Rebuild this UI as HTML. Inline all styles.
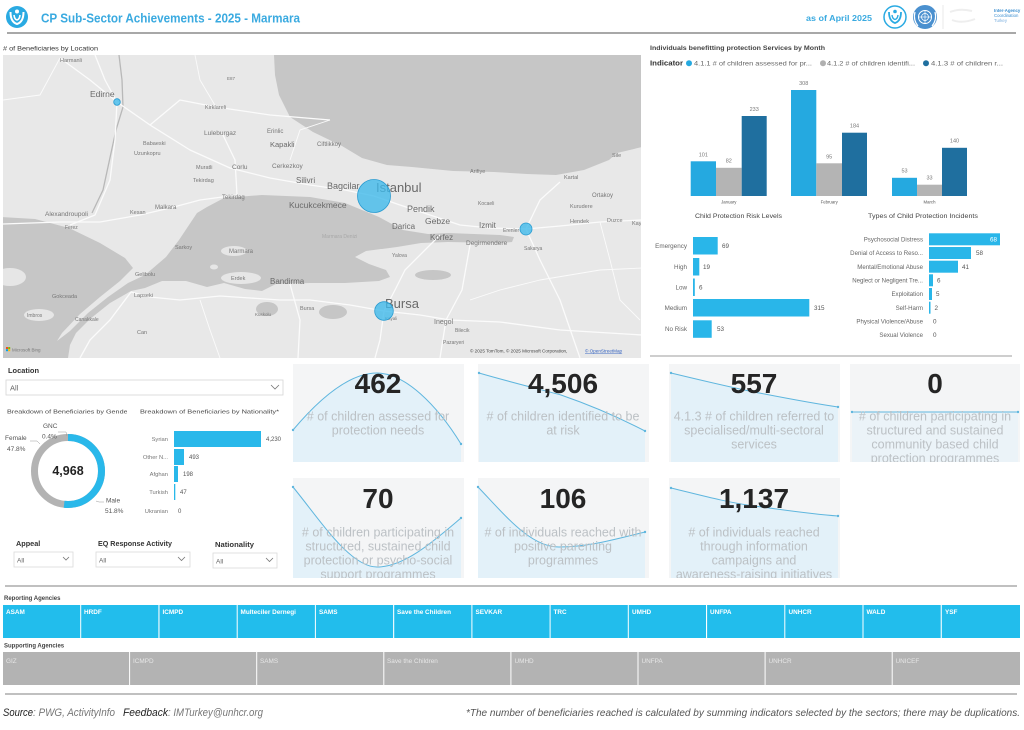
<!DOCTYPE html>
<html><head><meta charset="utf-8"><style>html,body{margin:0;padding:0;background:#fff}svg{display:block}</style></head>
<body>
<svg width="1024" height="730" viewBox="0 0 1024 730" xmlns="http://www.w3.org/2000/svg" font-family="'Liberation Sans', sans-serif">
<defs>
<clipPath id="mapclip"><rect x="3" y="55" width="638" height="303"/></clipPath>
<clipPath id="c1"><rect x="293" y="364" width="171" height="98"/></clipPath>
<clipPath id="c2"><rect x="478" y="364" width="171" height="98"/></clipPath>
<clipPath id="c3"><rect x="669" y="364" width="171" height="98"/></clipPath>
<clipPath id="c4"><rect x="850" y="364" width="170" height="98"/></clipPath>
<clipPath id="c5"><rect x="293" y="478" width="171" height="100"/></clipPath>
<clipPath id="c6"><rect x="478" y="478" width="171" height="100"/></clipPath>
<clipPath id="c7"><rect x="669" y="478" width="171" height="100"/></clipPath>
<clipPath id="gclip"><rect x="0" y="400" width="127" height="20"/></clipPath>
</defs>
<rect width="1024" height="730" fill="#fff"/>

<!-- HEADER -->
<circle cx="17" cy="17" r="11" fill="#2aaae2"/>
<circle cx="17" cy="11.5" r="2" fill="#fff"/>
<path d="M10.5,12 Q10.5,22 17,24 Q23.5,22 23.5,12" stroke="#fff" stroke-width="2" fill="none"/>
<path d="M14,15 Q14.5,19.5 17,20 Q19.5,19.5 20,15" stroke="#fff" stroke-width="1.6" fill="none"/>
<text x="41" y="22.5" font-size="13" font-weight="bold" fill="#3aaae0" textLength="259" lengthAdjust="spacingAndGlyphs">CP Sub-Sector Achievements - 2025 - Marmara</text>
<text x="806" y="21" font-size="8.5" font-weight="bold" fill="#3aaae0" textLength="66" lengthAdjust="spacingAndGlyphs">as of April 2025</text>
<circle cx="895" cy="17" r="11" fill="#fff" stroke="#2aaae2" stroke-width="1.5"/>
<circle cx="895" cy="11.5" r="1.8" fill="#2aaae2"/>
<path d="M889,12 Q889,21 895,23 Q901,21 901,12" stroke="#2aaae2" stroke-width="1.8" fill="none"/>
<path d="M892,15 Q892.5,19 895,19.5 Q897.5,19 898,15" stroke="#2aaae2" stroke-width="1.4" fill="none"/>
<circle cx="925" cy="17" r="12" fill="#4a90cf"/>
<circle cx="925" cy="17" r="6.5" fill="none" stroke="#fff" stroke-width="1"/>
<circle cx="925" cy="17" r="3.5" fill="none" stroke="#fff" stroke-width="0.8"/>
<line x1="918" y1="17" x2="932" y2="17" stroke="#fff" stroke-width="0.7"/>
<line x1="925" y1="10" x2="925" y2="24" stroke="#fff" stroke-width="0.7"/>
<path d="M915,12 Q913,20 918,26 M935,12 Q937,20 932,26" stroke="#fff" stroke-width="1.2" fill="none"/>
<line x1="943" y1="5" x2="943" y2="29" stroke="#e4e4e4" stroke-width="0.8"/>
<path d="M950,12 Q960,8 972,11 M952,20 Q962,24 975,19" stroke="#eeeeee" stroke-width="2" fill="none"/>
<text x="994" y="12" font-size="4.3" fill="#3a8ed0" font-weight="bold">Inter-Agency</text>
<text x="994" y="17" font-size="4.3" fill="#3a8ed0">Coordination</text>
<text x="994" y="22" font-size="4.3" fill="#7aaede">Turkey</text>
<line x1="7" y1="33" x2="1016" y2="33" stroke="#8c8c8c" stroke-width="1.5"/>

<!-- MAP -->
<text x="3" y="50.5" font-size="6.5" fill="#333" textLength="95" lengthAdjust="spacingAndGlyphs"># of Beneficiaries by Location</text>
<g clip-path="url(#mapclip)">
<rect x="3" y="55" width="638" height="303" fill="#e8e8e8"/>
<!-- Black Sea -->
<path d="M274,55 L642,55 L642,147 L617,153 L609,160 L584,170 L556,175 L527,174 L494,172 L453,171 L412,167 L387,165 L362,158 L342,146 L313,132 L290,117 L279,95 L275,75 Z" fill="#c6c6c6"/>
<!-- Marmara + Dardanelles + Aegean -->
<path d="M0,217 L35,219 L69,228 L100,243 L125,258 L133,268 L120,281 L100,297 L80,314 L62,333 L57,341 L70,331 L88,313 L108,297 L128,283 L145,275 L166,257 L179,240 L197,213 L207,207 L224,198 L262,195 L310,197 L345,203 L362,210 L379,217 L390,223 L403,230 L428,234 L448,233 L500,235 L514,237 L512,242 L500,243 L448,242 L421,243 L397,247 L366,251 L355,257 L369,264 L386,270 L390,277 L379,281 L345,283 L310,283 L276,284 L262,291 L245,289 L224,283 L207,287 L186,281 L162,281 L145,288 L131,291 L110,303 L90,319 L76,333 L70,345 L68,358 L0,358 Z" fill="#c6c6c6"/>
<ellipse cx="10" cy="277" rx="16" ry="9" fill="#e6e6e6"/>
<ellipse cx="39" cy="315" rx="15" ry="6" fill="#e6e6e6"/>
<ellipse cx="234" cy="251" rx="13" ry="5" fill="#e6e6e6"/>
<ellipse cx="241" cy="278" rx="20" ry="6" fill="#e6e6e6"/>
<ellipse cx="214" cy="267" rx="4" ry="2.5" fill="#e6e6e6"/>
<ellipse cx="267" cy="309" rx="11" ry="7" fill="#c6c6c6"/>
<ellipse cx="333" cy="312" rx="14" ry="7" fill="#c6c6c6"/>
<ellipse cx="433" cy="275" rx="18" ry="5" fill="#c6c6c6"/>
<!-- border -->
<polyline points="119,55 122,80 123,107 116,130 111,153 103,190 92,213" fill="none" stroke="#b8b8b8" stroke-width="1.3"/>
<!-- roads -->
<g fill="none" stroke="#fbfbfb" stroke-width="1.3" stroke-linejoin="round">
<polyline points="60,58 90,80 117,102 150,125 190,150 230,168 270,178 310,185 345,190 374,196"/>
<polyline points="374,196 400,205 430,215 460,225 490,228 526,229 560,226 600,222 642,220"/>
<polyline points="440,235 420,255 405,270 395,290 384,311"/>
<polyline points="384,311 420,315 450,320 500,322 560,330 642,335"/>
<polyline points="384,311 350,305 310,300 280,300 250,298 220,296 180,300 150,297 131,292"/>
<polyline points="237,195 200,200 170,208 140,215 100,222 60,222 3,224"/>
<polyline points="117,102 115,140 110,180 95,215 70,225"/>
<polyline points="117,102 105,80 95,55"/>
<polyline points="150,125 180,100 216,107 270,115 330,120"/>
<polyline points="222,133 235,160 237,195"/>
<polyline points="384,311 380,340 375,358"/>
<polyline points="290,284 300,320 298,358"/>
<polyline points="526,229 540,200 560,182"/>
<polyline points="526,229 540,260 560,300 580,358"/>
<polyline points="470,245 462,290 446,320 440,358"/>
<polyline points="131,292 110,320 90,340 80,358"/>
<polyline points="216,107 200,80 195,55" stroke-width="0.9"/>
<polyline points="290,160 300,130 330,120" stroke-width="0.9"/>
<polyline points="600,222 610,260 620,300 640,320" stroke-width="0.9"/>
<polyline points="200,300 210,330 220,358" stroke-width="0.9"/>
<polyline points="3,100 40,95 60,58" stroke-width="0.9"/>
<polyline points="470,300 500,290 540,280 600,270 642,268" stroke-width="0.9"/>
</g>
<!-- labels -->
<g fill="#777" font-size="5.5">
<text x="60" y="62">Harmanli</text>
<text x="90" y="97" font-size="8.5" fill="#6a6a6a">Edirne</text>
<text x="205" y="109">Kirklareli</text>
<text x="204" y="135" font-size="6.5">Luleburgaz</text>
<text x="143" y="145">Babaeski</text>
<text x="134" y="155">Uzunkopru</text>
<text x="196" y="169">Muratli</text>
<text x="232" y="169" font-size="6.5">Corlu</text>
<text x="272" y="168" font-size="6.5">Cerkezkoy</text>
<text x="270" y="147" font-size="7.5" fill="#6a6a6a">Kapakli</text>
<text x="317" y="146" font-size="6">Ciftlikkoy</text>
<text x="267" y="133" font-size="6">Erinlic</text>
<text x="296" y="183" font-size="8" fill="#6a6a6a">Silivri</text>
<text x="327" y="189" font-size="9" fill="#6a6a6a">Bagcilar</text>
<text x="376" y="192" font-size="13" fill="#6a6a6a">Istanbul</text>
<text x="289" y="208" font-size="8.5" fill="#6a6a6a">Kucukcekmece</text>
<text x="407" y="212" font-size="9" fill="#6a6a6a">Pendik</text>
<text x="425" y="224" font-size="8.5" fill="#6a6a6a">Gebze</text>
<text x="392" y="229" font-size="8" fill="#6a6a6a">Darica</text>
<text x="430" y="240" font-size="8" fill="#6a6a6a">Korfez</text>
<text x="479" y="228" font-size="8" fill="#6a6a6a">Izmit</text>
<text x="503" y="232" font-size="5">Erenler</text>
<text x="466" y="245" font-size="6.5">Degirmendere</text>
<text x="524" y="250" font-size="5">Sakarya</text>
<text x="222" y="199" font-size="6">Tekirdag</text>
<text x="193" y="182" font-size="5.5">Tekirdag</text>
<text x="155" y="209" font-size="6">Malkara</text>
<text x="45" y="216" font-size="6.5">Alexandroupoli</text>
<text x="130" y="214" font-size="5.5">Kesan</text>
<text x="65" y="229" font-size="5">Ferez</text>
<text x="322" y="238" font-size="5" fill="#a8a8a8">Marmara Denizi</text>
<text x="229" y="253" font-size="6">Marmara</text>
<text x="231" y="280" font-size="5.5">Erdek</text>
<text x="175" y="249" font-size="5.5">Sarkoy</text>
<text x="270" y="284" font-size="8" fill="#6a6a6a">Bandirma</text>
<text x="385" y="308" font-size="13" fill="#6a6a6a">Bursa</text>
<text x="434" y="324" font-size="7">Inegol</text>
<text x="392" y="257" font-size="5">Yalova</text>
<text x="564" y="179" font-size="5.5">Kartal</text>
<text x="612" y="157" font-size="5.5">Sile</text>
<text x="592" y="197" font-size="6">Ortakoy</text>
<text x="570" y="208" font-size="5.5">Kurudere</text>
<text x="570" y="223" font-size="5.5">Hendek</text>
<text x="607" y="222" font-size="5.5">Duzce</text>
<text x="632" y="225" font-size="5.5">Kay</text>
<text x="470" y="173" font-size="5.5">Arifiye</text>
<text x="478" y="205" font-size="5">Kocaeli</text>
<text x="135" y="276" font-size="5.5">Gelibolu</text>
<text x="134" y="297" font-size="5.5">Lapseki</text>
<text x="52" y="298" font-size="5.5">Gokceada</text>
<text x="27" y="317" font-size="5">Imbros</text>
<text x="75" y="321" font-size="5">Canakkale</text>
<text x="137" y="334" font-size="5.5">Can</text>
<text x="300" y="310" font-size="5.5">Bursa</text>
<text x="255" y="316" font-size="4.5">Kuskolu</text>
<text x="385" y="320" font-size="4.5">Kayali</text>
<text x="455" y="332" font-size="5">Bilecik</text>
<text x="443" y="344" font-size="5">Pazaryeri</text>
<text x="227" y="80" font-size="4.5">E87</text>
</g>
<!-- bubbles -->
<g fill="#3cb9ea" fill-opacity="0.78" stroke="#2a9bd0" stroke-width="0.8">
<circle cx="117" cy="102" r="3.3"/>
<circle cx="374" cy="196" r="16.5"/>
<circle cx="526" cy="229" r="6"/>
<circle cx="384" cy="311" r="9.3"/>
</g>
<rect x="6" y="347" width="2" height="2" fill="#f25022"/><rect x="8.2" y="347" width="2" height="2" fill="#7fba00"/><rect x="6" y="349.2" width="2" height="2" fill="#00a4ef"/><rect x="8.2" y="349.2" width="2" height="2" fill="#ffb900"/>
<text x="12" y="351.5" font-size="4.5" fill="#777">Microsoft Bing</text>
<text x="470" y="352.5" font-size="4.6" fill="#444">© 2025 TomTom, © 2025 Microsoft Corporation,</text>
<text x="585" y="352.5" font-size="4.6" fill="#3060c0" text-decoration="underline">© OpenStreetMap</text>
</g>

<!-- TOP RIGHT BAR CHART -->
<text x="650" y="50" font-size="6.8" font-weight="bold" fill="#444" textLength="175" lengthAdjust="spacingAndGlyphs">Individuals benefitting protection Services by Month</text>
<text x="650" y="65.5" font-size="7" font-weight="bold" fill="#333" textLength="33" lengthAdjust="spacingAndGlyphs">Indicator</text>
<circle cx="689" cy="63.3" r="3" fill="#25a9e0"/>
<text x="694" y="65.5" font-size="6.8" fill="#666" textLength="118" lengthAdjust="spacingAndGlyphs">4.1.1 # of children assessed for pr...</text>
<circle cx="823" cy="63.3" r="3" fill="#b0b0b0"/>
<text x="827" y="65.5" font-size="6.8" fill="#666" textLength="88" lengthAdjust="spacingAndGlyphs">4.1.2 # of children identifi...</text>
<circle cx="926" cy="63.3" r="3" fill="#1f6f9f"/>
<text x="931" y="65.5" font-size="6.8" fill="#666" textLength="72" lengthAdjust="spacingAndGlyphs">4.1.3 # of children r...</text>
<g>
<rect x="690.7" y="161.3" width="25.3" height="34.7" fill="#25a9e0"/>
<rect x="716" y="167.8" width="25.7" height="28.2" fill="#b4b4b4"/>
<rect x="741.7" y="116" width="25" height="80" fill="#1f6f9f"/>
<rect x="791" y="90" width="25.3" height="106" fill="#25a9e0"/>
<rect x="816.3" y="163.3" width="25.7" height="32.7" fill="#b4b4b4"/>
<rect x="842" y="132.7" width="25" height="63.3" fill="#1f6f9f"/>
<rect x="892" y="177.8" width="25" height="18.2" fill="#25a9e0"/>
<rect x="917" y="184.7" width="25" height="11.3" fill="#b4b4b4"/>
<rect x="942" y="147.8" width="25" height="48.2" fill="#1f6f9f"/>
</g>
<g font-size="5.5" fill="#777" text-anchor="middle">
<text x="703.3" y="156.5">101</text>
<text x="728.8" y="162.5">82</text>
<text x="754.2" y="111">233</text>
<text x="803.7" y="85">308</text>
<text x="829.2" y="158.5">95</text>
<text x="854.5" y="127.5">184</text>
<text x="904.5" y="172.5">53</text>
<text x="929.5" y="179.5">33</text>
<text x="954.5" y="142.5">140</text>
<text x="728.8" y="203.5" font-size="4.3" fill="#555">January</text>
<text x="829.2" y="203.5" font-size="4.3" fill="#555">February</text>
<text x="929.5" y="203.5" font-size="4.3" fill="#555">March</text>
</g>

<!-- RISK LEVELS -->
<text x="695" y="218" font-size="6" fill="#444" textLength="87" lengthAdjust="spacingAndGlyphs">Child Protection Risk Levels</text>
<text x="868" y="218" font-size="6" fill="#444" textLength="110" lengthAdjust="spacingAndGlyphs">Types of Child Protection Incidents</text>
<g fill="#29b6e9">
<rect x="693" y="237" width="24.7" height="17.5"/>
<rect x="693" y="258" width="6.3" height="17.5"/>
<rect x="693" y="278.5" width="1.8" height="17.5"/>
<rect x="693" y="299" width="116.3" height="17.5"/>
<rect x="693" y="320.3" width="18.7" height="17.5"/>
</g>
<g font-size="6.3" fill="#666" text-anchor="end">
<text x="687" y="248">Emergency</text>
<text x="687" y="269">High</text>
<text x="687" y="289.5">Low</text>
<text x="687" y="310">Medium</text>
<text x="687" y="331">No Risk</text>
</g>
<g font-size="6.3" fill="#555">
<text x="722" y="248">69</text>
<text x="703" y="269">19</text>
<text x="699" y="289.5">6</text>
<text x="814" y="310">315</text>
<text x="717" y="331">53</text>
</g>
<!-- INCIDENTS -->
<g fill="#29b6e9">
<rect x="929" y="233.3" width="71" height="12"/>
<rect x="929" y="247" width="42" height="12"/>
<rect x="929" y="260.7" width="29" height="12"/>
<rect x="929" y="274.3" width="4" height="12"/>
<rect x="929" y="288" width="3" height="12"/>
<rect x="929" y="301.7" width="1.5" height="12"/>
</g>
<g font-size="6.1" fill="#666" text-anchor="end">
<text x="923" y="241.5">Psychosocial Distress</text>
<text x="923" y="255.2">Denial of Access to Reso...</text>
<text x="923" y="268.9">Mental/Emotional Abuse</text>
<text x="923" y="282.5">Neglect or Negligent Tre...</text>
<text x="923" y="296.2">Exploitation</text>
<text x="923" y="309.9">Self-Harm</text>
<text x="923" y="323.5">Physical Violence/Abuse</text>
<text x="923" y="337.2">Sexual Violence</text>
</g>
<g font-size="6.3" fill="#555">
<text x="990" y="241.5" fill="#fff">68</text>
<text x="976" y="255.2">58</text>
<text x="962" y="268.9">41</text>
<text x="937" y="282.5">6</text>
<text x="936" y="296.2">5</text>
<text x="934.5" y="309.9">2</text>
<text x="933" y="323.5">0</text>
<text x="933" y="337.2">0</text>
</g>
<line x1="650" y1="356" x2="1012" y2="356" stroke="#bdbdbd" stroke-width="1.5"/>

<!-- LEFT MIDDLE -->
<text x="8" y="373" font-size="7.5" font-weight="bold" fill="#333" textLength="31" lengthAdjust="spacingAndGlyphs">Location</text>
<rect x="6" y="380" width="277" height="15" fill="#fff" stroke="#d6d6d6" stroke-width="0.8"/>
<text x="10" y="390.5" font-size="7.5" fill="#666">All</text>
<polyline points="271,385 275,389 279,385" fill="none" stroke="#777" stroke-width="0.8"/>
<g clip-path="url(#gclip)"><text x="7" y="413.5" font-size="5.6" fill="#444" textLength="123" lengthAdjust="spacingAndGlyphs">Breakdown of Beneficiaries by Gender</text></g>
<text x="140" y="413.5" font-size="5.6" fill="#444" textLength="139" lengthAdjust="spacingAndGlyphs">Breakdown of Beneficiaries by Nationality*</text>
<!-- donut -->
<circle cx="68" cy="471" r="33.5" fill="none" stroke="#b3b3b3" stroke-width="7"/>
<circle cx="68" cy="471" r="33.5" fill="none" stroke="#29b8ea" stroke-width="7" stroke-dasharray="109 210.5" transform="rotate(-90 68 471)"/>
<text x="68" y="475" font-size="12.5" font-weight="bold" fill="#222" text-anchor="middle">4,968</text>
<g font-size="6.5" fill="#555">
<text x="43" y="428">GNC</text>
<text x="42" y="438.5">0.4%</text>
<text x="5" y="440">Female</text>
<text x="7" y="451">47.8%</text>
<text x="106" y="502.5">Male</text>
<text x="105" y="513">51.8%</text>
</g>
<polyline points="58,432 66,432 67,436" fill="none" stroke="#999" stroke-width="0.5"/>
<polyline points="30,441 37,441 40,444" fill="none" stroke="#999" stroke-width="0.5"/>
<polyline points="96,501 99,502 104,502" fill="none" stroke="#999" stroke-width="0.5"/>
<!-- nationality -->
<g fill="#29b8ea">
<rect x="174" y="431" width="87" height="16"/>
<rect x="174" y="449" width="10" height="16"/>
<rect x="174" y="466" width="4" height="16"/>
<rect x="174" y="484" width="1.3" height="16"/>
</g>
<g font-size="5.8" fill="#777" text-anchor="end">
<text x="168" y="441">Syrian</text>
<text x="168" y="459">Other N...</text>
<text x="168" y="476">Afghan</text>
<text x="168" y="494">Turkish</text>
<text x="168" y="513">Ukranian</text>
</g>
<g font-size="6" fill="#555">
<text x="266" y="441">4,230</text>
<text x="189" y="459">493</text>
<text x="183" y="476">198</text>
<text x="180" y="494">47</text>
<text x="178" y="513">0</text>
</g>
<!-- slicers -->
<text x="16" y="546" font-size="7.3" font-weight="bold" fill="#333">Appeal</text>
<text x="98" y="546" font-size="7.3" font-weight="bold" fill="#333" textLength="74" lengthAdjust="spacingAndGlyphs">EQ Response Activity</text>
<text x="215" y="547" font-size="7.3" font-weight="bold" fill="#333" textLength="39" lengthAdjust="spacingAndGlyphs">Nationality</text>
<rect x="14" y="552" width="59" height="15" fill="#fff" stroke="#dadada" stroke-width="0.8"/>
<rect x="96" y="552" width="94" height="15" fill="#fff" stroke="#dadada" stroke-width="0.8"/>
<rect x="213" y="553" width="64" height="15" fill="#fff" stroke="#dadada" stroke-width="0.8"/>
<g font-size="6.5" fill="#666">
<text x="17" y="562.5">All</text>
<text x="99" y="562.5">All</text>
<text x="216" y="563.5">All</text>
</g>
<g fill="none" stroke="#777" stroke-width="0.8">
<polyline points="63,557 66,560 69,557"/>
<polyline points="178,557 181.5,560.5 185,557"/>
<polyline points="266,558 269.5,561.5 273,558"/>
</g>

<!-- KPI CARDS -->
<g fill="#f4f5f6">
<rect x="293" y="364" width="171" height="98"/>
<rect x="478" y="364" width="171" height="98"/>
<rect x="669" y="364" width="171" height="98"/>
<rect x="850" y="364" width="170" height="98"/>
<rect x="293" y="478" width="171" height="100"/>
<rect x="478" y="478" width="171" height="100"/>
<rect x="669" y="478" width="171" height="100"/>
</g>
<g fill="#e3f1f9">
<path clip-path="url(#c1)" d="M293,430 C320,398 350,373 377,373 C405,373 437,405 461,444 L461,462 L293,462 Z"/>
<path clip-path="url(#c2)" d="M479,373 C510,382 535,388 561,395 C590,405 620,418 645,431 L645,462 L479,462 Z"/>
<path clip-path="url(#c3)" d="M671,373 C700,380 725,386 754,392 C785,398 810,403 838,407 L838,462 L671,462 Z"/>
<rect x="852" y="412" width="166" height="50" fill="#ebf3f8"/>
<path clip-path="url(#c5)" d="M293,487 C320,520 350,567 377,567 C405,567 435,540 461,518 L461,578 L293,578 Z"/>
<path clip-path="url(#c6)" d="M478,487 C505,515 530,547 559,547 C590,547 620,538 645,532 L645,578 L478,578 Z"/>
<path clip-path="url(#c7)" d="M671,488 C700,495 725,502 754,506 C785,510 810,514 838,516 L838,578 L671,578 Z"/>
</g>
<g fill="none" stroke="#5fb6de" stroke-width="1">
<path d="M293,430 C320,398 350,373 377,373 C405,373 437,405 461,444"/>
<path d="M479,373 C510,382 535,388 561,395 C590,405 620,418 645,431"/>
<path d="M671,373 C700,380 725,386 754,392 C785,398 810,403 838,407"/>
<path d="M852,412 L1018,412"/>
<path d="M293,487 C320,520 350,567 377,567 C405,567 435,540 461,518"/>
<path d="M478,487 C505,515 530,547 559,547 C590,547 620,538 645,532"/>
<path d="M671,488 C700,495 725,502 754,506 C785,510 810,514 838,516"/>
</g>
<g fill="#5fb6de">
<circle cx="293" cy="430" r="1.2"/><circle cx="461" cy="444" r="1.2"/>
<circle cx="479" cy="373" r="1.2"/><circle cx="645" cy="431" r="1.2"/>
<circle cx="671" cy="373" r="1.2"/><circle cx="838" cy="407" r="1.2"/>
<circle cx="852" cy="412" r="1.2"/><circle cx="1018" cy="412" r="1.2"/>
<circle cx="293" cy="487" r="1.2"/><circle cx="461" cy="518" r="1.2"/>
<circle cx="478" cy="487" r="1.2"/><circle cx="645" cy="532" r="1.2"/>
<circle cx="671" cy="488" r="1.2"/><circle cx="838" cy="516" r="1.2"/>
</g>
<g font-size="28" font-weight="bold" fill="#252525" text-anchor="middle">
<text x="378" y="393">462</text>
<text x="563" y="393">4,506</text>
<text x="754" y="393">557</text>
<text x="935" y="393">0</text>
<text x="378" y="508">70</text>
<text x="563" y="508">106</text>
<text x="754" y="508">1,137</text>
</g>
<g font-size="12.5" fill="#bcc1c5" text-anchor="middle">
<g clip-path="url(#c1)"><text x="378" y="420.5">
# of children assessed for</text><text x="378" y="434.5">protection needs</text></g>
<g clip-path="url(#c2)"><text x="563" y="420.5"># of children identified to be</text><text x="563" y="434.5">at risk</text></g>
<g clip-path="url(#c3)"><text x="754" y="420.5">4.1.3 # of children referred to</text><text x="754" y="434.5">specialised/multi-sectoral</text><text x="754" y="448.5">services</text></g>
<g clip-path="url(#c4)"><text x="935" y="420.5"># of children participating in</text><text x="935" y="434.5">structured and sustained</text><text x="935" y="448.5">community based child</text><text x="935" y="462.5">protection programmes</text></g>
<g clip-path="url(#c5)"><text x="378" y="536.5"># of children participating in</text><text x="378" y="550.5">structured, sustained child</text><text x="378" y="564.5">protection or psycho-social</text><text x="378" y="578.5">support programmes</text></g>
<g clip-path="url(#c6)"><text x="563" y="536.5"># of individuals reached with</text><text x="563" y="550.5">positive parenting</text><text x="563" y="564.5">programmes</text></g>
<g clip-path="url(#c7)"><text x="754" y="536.5"># of individuals reached</text><text x="754" y="550.5">through information</text><text x="754" y="564.5">campaigns and</text><text x="754" y="578.5">awareness-raising initiatives</text></g>
</g>

<!-- AGENCIES -->
<line x1="5" y1="586" x2="1017" y2="586" stroke="#9a9a9a" stroke-width="1.2"/>
<text x="4" y="600" font-size="6" font-weight="bold" fill="#444">Reporting Agencies</text>
<g fill="#22bdec">
<rect x="3" y="605" width="77.2" height="33"/>
<rect x="81.2" y="605" width="77.2" height="33"/>
<rect x="159.5" y="605" width="77.2" height="33"/>
<rect x="237.7" y="605" width="77.2" height="33"/>
<rect x="315.9" y="605" width="77.2" height="33"/>
<rect x="394.2" y="605" width="77.2" height="33"/>
<rect x="472.4" y="605" width="77.2" height="33"/>
<rect x="550.6" y="605" width="77.2" height="33"/>
<rect x="628.8" y="605" width="77.2" height="33"/>
<rect x="707.1" y="605" width="77.2" height="33"/>
<rect x="785.3" y="605" width="77.2" height="33"/>
<rect x="863.5" y="605" width="77.2" height="33"/>
<rect x="941.8" y="605" width="78.2" height="33"/>
</g>
<g font-size="6.4" fill="#fff" font-weight="bold">
<text x="6" y="614">ASAM</text>
<text x="84" y="614">HRDF</text>
<text x="162.5" y="614">ICMPD</text>
<text x="240.5" y="614">Multeciler Dernegi</text>
<text x="319" y="614">SAMS</text>
<text x="397" y="614">Save the Children</text>
<text x="475.5" y="614">SEVKAR</text>
<text x="553.5" y="614">TRC</text>
<text x="632" y="614">UMHD</text>
<text x="710" y="614">UNFPA</text>
<text x="788.5" y="614">UNHCR</text>
<text x="866.5" y="614">WALD</text>
<text x="945" y="614">YSF</text>
</g>
<text x="4" y="647.5" font-size="6" font-weight="bold" fill="#444">Supporting Agencies</text>
<g fill="#b3b3b3">
<rect x="3" y="652" width="126.1" height="33"/>
<rect x="130.1" y="652" width="126.1" height="33"/>
<rect x="257.2" y="652" width="126.1" height="33"/>
<rect x="384.3" y="652" width="126.1" height="33"/>
<rect x="511.4" y="652" width="126.1" height="33"/>
<rect x="638.5" y="652" width="126.1" height="33"/>
<rect x="765.6" y="652" width="126.1" height="33"/>
<rect x="892.7" y="652" width="127.3" height="33"/>
</g>
<g font-size="6.4" fill="#e6e6e6">
<text x="6" y="663">GIZ</text>
<text x="133" y="663">ICMPD</text>
<text x="260" y="663">SAMS</text>
<text x="387" y="663">Save the Children</text>
<text x="514.5" y="663">UMHD</text>
<text x="641.5" y="663">UNFPA</text>
<text x="768.5" y="663">UNHCR</text>
<text x="895.5" y="663">UNICEF</text>
</g>
<line x1="5" y1="694" x2="1017" y2="694" stroke="#9a9a9a" stroke-width="1.2"/>

<!-- FOOTER -->
<g font-size="11" font-style="italic">
<text x="3" y="716" fill="#222" textLength="30" lengthAdjust="spacingAndGlyphs">Source</text>
<text x="33" y="716" fill="#777" textLength="82" lengthAdjust="spacingAndGlyphs">: PWG, ActivityInfo</text>
<text x="123" y="716" fill="#222" textLength="45" lengthAdjust="spacingAndGlyphs">Feedback</text>
<text x="168" y="716" fill="#777" textLength="95" lengthAdjust="spacingAndGlyphs">: IMTurkey@unhcr.org</text>
<text x="466" y="716" fill="#555" font-size="10.5" textLength="554" lengthAdjust="spacingAndGlyphs">*The number of beneficiaries reached is calculated by summing indicators selected by the sectors; there may be duplications.</text>
</g>
</svg>
</body></html>
